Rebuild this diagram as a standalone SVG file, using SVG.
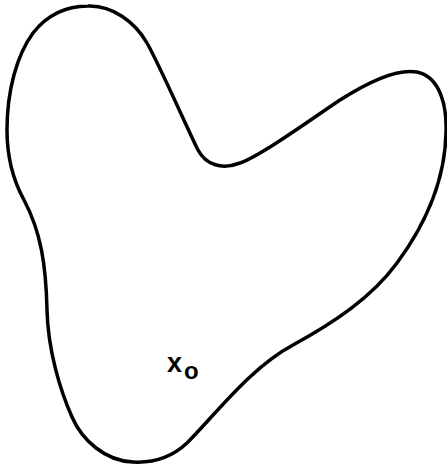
<svg xmlns="http://www.w3.org/2000/svg" width="447" height="469" viewBox="0 0 447 469">
<style>
.outline{fill:none;stroke:#000;stroke-width:3.5;stroke-linejoin:round;stroke-linecap:round}
.lbl{font-family:"Liberation Sans",Arial,sans-serif;fill:#000;font-weight:bold}
</style>
<rect width="447" height="469" fill="#fff"/>
<g id="region">
<path class="outline" d="M88,6 C112,5 135,22 147,43 C159,64 188,130 198,150 C206,165 222,170 240,163 C262,155 310,120 340,100 C365,84 395,68 417,72 C440,77 447,105 446,133 C445,180 425,225 397,263 C372,297 335,322 293,345 C250,368 215,415 187,443 C170,459 152,463 133,462 C105,461 82,440 72,417 C60,390 48,350 47,310 C46,265 41,232 24,200 C13,180 7,155 7,130 C7,90 17,55 33,33 C48,14 68,6 88,6 Z"/>
</g>
<g id="label">
<text class="lbl" x="167" y="372" font-size="27">x<tspan font-size="24" x="184" y="379">o</tspan></text>
</g>
</svg>
